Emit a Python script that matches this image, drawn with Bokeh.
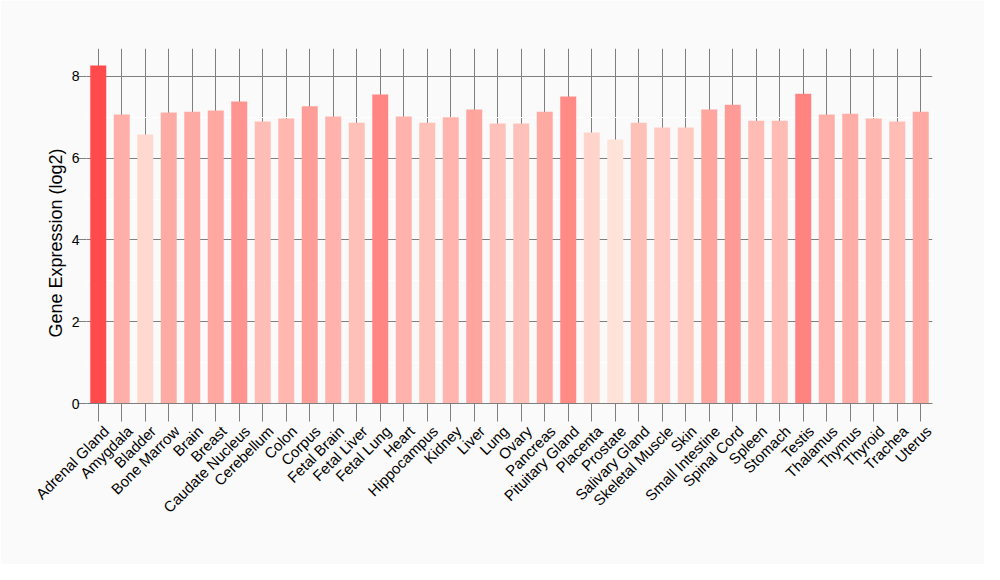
import numpy as np
from math import pi
from bokeh.plotting import figure
from bokeh.models import (ColumnDataSource, Range1d, SingleIntervalTicker, LinearColorMapper,
                          LinearAxis, FixedTicker, Title)
from bokeh.transform import transform
from bokeh.embed import file_html
from bokeh.resources import INLINE

tissues = ["Adrenal Gland", "Amygdala", "Bladder", "Bone Marrow", "Brain", "Breast",
           "Caudate Nucleus", "Cerebellum", "Colon", "Corpus", "Fetal Brain", "Fetal Liver",
           "Fetal Lung", "Heart", "Hippocampus", "Kidney", "Liver", "Lung", "Ovary",
           "Pancreas", "Pituitary Gland", "Placenta", "Prostate", "Salivary Gland",
           "Skeletal Muscle", "Skin", "Small Intestine", "Spinal Cord", "Spleen", "Stomach",
           "Testis", "Thalamus", "Thymus", "Thyroid", "Trachea", "Uterus"]
expression = [8.27, 7.07, 6.58, 7.12, 7.14, 7.17,
              7.39, 6.90, 6.97, 7.27, 7.02, 6.87,
              7.56, 7.02, 6.87, 7.00, 7.19, 6.85, 6.85,
              7.14, 7.51, 6.63, 6.46, 6.87,
              6.75, 6.75, 7.19, 7.31, 6.92, 6.92,
              7.58, 7.07, 7.09, 6.97, 6.90, 7.14]
y_title = "Gene Expression (log2)"

n = len(tissues)
pos = list(range(n))

# palette from light salmon to red
lo = np.array([255, 226, 216]); hi = np.array([255, 75, 75])
palette = ["#%02x%02x%02x" % tuple(int(round(c)) for c in lo + (hi - lo) * t)
           for t in np.linspace(0, 1, 256)]
mapper = LinearColorMapper(palette=palette, low=min(expression), high=max(expression))

source = ColumnDataSource(dict(pos=pos, tissue=tissues, value=expression))

FONT = "Liberation Sans"
BG = "#FAFAFA"
GRID = "#7F7F7F"

p = figure(x_range=Range1d(-0.5, n - 0.5), y_range=Range1d(0, 8.685), width=984, height=564,
           output_backend="svg", toolbar_location=None, x_axis_location=None,
           min_border_left=86, min_border_right=52, min_border_top=48, min_border_bottom=161)
p.background_fill_color = BG
p.border_fill_color = BG
p.outline_line_color = None

# label axis range shifted so that the rotated names sit slightly right of the ticks
shift_px = 8.0
unit_px = 846.0 / n
p.extra_x_ranges = {"labels": Range1d(-0.5 - shift_px / unit_px, n - 0.5 - shift_px / unit_px)}

p.vbar(x="pos", top="value", width=0.68, source=source,
       fill_color=transform("value", mapper), line_color=None)

# y axis
p.yaxis.ticker = SingleIntervalTicker(interval=2, num_minor_ticks=2)
p.ygrid.grid_line_color = GRID
p.ygrid.grid_line_width = 1
p.ygrid.minor_grid_line_color = "white"
p.ygrid.minor_grid_line_width = 1
p.yaxis.axis_line_color = None
p.yaxis.major_tick_line_color = GRID
p.yaxis.major_tick_out = 9
p.yaxis.major_tick_in = 0
p.yaxis.minor_tick_line_color = None
p.yaxis.major_label_text_font = FONT
p.yaxis.major_label_text_font_size = "14px"
p.yaxis.major_label_text_color = "black"
p.yaxis.major_label_standoff = -2

ytitle = Title(text=y_title, align="left", offset=66, text_font=FONT, text_font_size="18px",
               text_font_style="normal", text_color="black", standoff=6)
p.add_layout(ytitle, "left")

# x axis: ticks and line
tick_axis = LinearAxis(ticker=FixedTicker(ticks=pos), axis_line_color=GRID,
                       major_tick_line_color=GRID, major_tick_out=18, major_tick_in=0,
                       minor_tick_line_color=None, major_label_standoff=0,
                       major_label_overrides={i: "" for i in pos},
                       major_label_text_font_size="1px")
p.add_layout(tick_axis, "below")

# x axis: tissue names
label_axis = LinearAxis(x_range_name="labels", ticker=FixedTicker(ticks=pos),
                        axis_line_color=None, major_tick_line_color=None,
                        minor_tick_line_color=None, major_tick_out=0, major_tick_in=0,
                        major_label_overrides={i: t for i, t in zip(pos, tissues)},
                        major_label_orientation=pi / 4, major_label_standoff=7,
                        major_label_text_font=FONT, major_label_text_font_size="15px",
                        major_label_text_color="black")
p.add_layout(label_axis, "below")

p.xgrid.ticker = FixedTicker(ticks=pos)
p.xgrid.grid_line_color = GRID
p.xgrid.grid_line_width = 1

html = file_html(p, INLINE)
html = html.replace("<body>", '<body style="background:#FAFAFA">', 1)
open("out.html", "w").write(html)
